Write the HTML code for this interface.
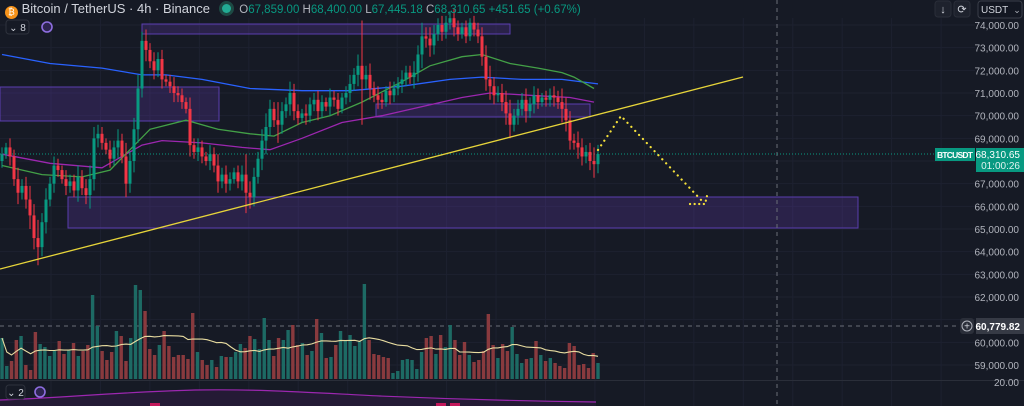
<!DOCTYPE html>
<html><head><meta charset="utf-8">
<style>
html,body{margin:0;padding:0;background:#161a25;width:1024px;height:406px;overflow:hidden;font-family:"Liberation Sans",sans-serif}
#wrap{position:relative;width:1024px;height:406px}
svg{position:absolute;left:0;top:0}
.hdr{position:absolute;left:0;top:0;height:18px;font-size:13px;color:#d1d4dc;white-space:nowrap}
</style></head><body>
<div id="wrap">
<svg id="chart" width="1024" height="406"></svg>
<div class="hdr" style="left:5px;top:1px">
 <span style="display:inline-block;width:13px;height:13px;border-radius:50%;background:#f7931a;vertical-align:-2px;color:#fff;font-size:9px;text-align:center;line-height:13px">₿</span>
 <span style="margin-left:0px">Bitcoin / TetherUS · 4h · Binance</span>
 <span style="display:inline-block;width:9px;height:9px;border-radius:50%;background:#22ab94;margin-left:8px;box-shadow:0 0 0 3px #1d4a44;vertical-align:0px"></span>
 <span style="font-size:11.5px;margin-left:5px;color:#089981"><span style="color:#b2b5be">O</span>67,859.00 <span style="color:#b2b5be">H</span>68,400.00 <span style="color:#b2b5be">L</span>67,445.18 <span style="color:#b2b5be">C</span>68,310.65 +451.65 (+0.67%)</span>
</div>
</div>
<script>
const closes=[68.3,68.6,68.2,67.2,66.6,66.9,66.3,65.6,64.6,64.2,65.3,66.3,67.0,67.8,67.6,67.2,66.9,67.1,66.7,67.3,66.8,66.5,67.2,69.0,69.2,68.8,68.5,68.1,68.6,68.9,68.2,67.0,68.0,69.4,71.2,73.3,72.9,72.4,72.0,72.5,71.6,71.5,71.3,71.0,70.9,70.6,70.3,68.7,68.4,68.6,68.2,68.0,68.3,67.8,67.1,67.4,67.0,67.2,67.5,67.1,67.4,66.6,66.4,67.3,68.1,68.9,69.5,70.3,69.8,69.6,70.2,70.5,71.0,70.2,69.9,70.1,70.0,70.5,70.7,70.2,70.6,70.4,70.8,70.7,70.3,70.8,71.0,71.4,71.8,72.2,71.6,71.8,71.2,70.9,70.7,70.6,71.1,70.9,71.2,71.4,71.6,71.9,71.7,71.9,72.7,73.5,73.4,73.1,73.6,74.0,73.7,74.1,74.3,73.9,73.6,73.9,73.5,74.1,73.8,73.5,72.6,71.6,71.3,70.9,71.0,70.6,70.1,69.6,70.0,70.3,70.7,70.2,70.5,70.9,70.6,70.8,70.7,70.9,70.8,70.6,70.3,69.8,68.9,68.8,68.6,68.2,68.4,68.0,67.86,68.31];
const wicks=[0.3,0.2,0.4,0.3,0.5,0.3,0.4,0.6,0.5,0.8,0.4,0.5,0.3,0.4,0.3,0.2,0.4,0.3,0.3,0.5,0.3,0.4,0.6,0.5,0.4,0.3,0.2,0.4,0.3,0.5,0.3,0.6,0.4,0.5,0.6,0.4,0.5,0.3,0.4,0.3,0.4,0.2,0.3,0.4,0.3,0.3,0.2,0.5,0.3,0.4,0.3,0.2,0.4,0.3,0.5,0.3,0.4,0.3,0.2,0.3,0.4,0.9,0.5,0.4,0.3,0.5,0.6,0.4,0.3,0.8,0.4,0.3,0.5,0.4,0.3,0.2,0.4,0.3,0.3,0.4,0.3,0.2,0.4,0.3,0.3,0.2,0.3,0.4,0.3,0.5,2.0,0.4,0.5,0.3,0.4,0.3,0.2,0.4,0.3,0.3,0.4,0.3,0.3,0.5,0.4,0.6,0.4,0.5,0.4,0.3,0.4,0.3,0.3,0.4,0.3,0.2,0.3,0.2,0.3,0.3,0.4,0.5,0.6,0.4,0.3,0.4,0.5,0.6,0.3,0.4,0.3,0.5,0.3,0.4,0.3,0.2,0.3,0.3,0.4,0.3,0.6,0.5,0.4,0.3,0.5,0.4,0.3,0.4,0.6,0.4];
const volumes=[41,13,18,39,43,14,9,47,35,32,23,28,38,25,29,36,23,28,34,84,53,28,19,27,48,43,18,41,94,89,68,30,24,34,48,33,22,24,24,20,66,27,19,14,19,12,23,22,22,27,35,31,43,40,30,61,39,23,41,39,49,54,34,36,24,28,60,46,21,22,34,48,39,44,33,38,95,39,25,24,22,21,6,8,19,20,19,10,27,41,43,25,44,32,54,39,24,37,24,17,19,28,65,34,21,35,28,52,25,16,20,21,38,24,18,21,16,13,11,36,33,14,15,11,26,16];
const maIdxBlue=[0,12,25,35,41,50,62,75,87,100,112,120,130,140,149];
const maBlue=[72.7,72.3,72.1,71.8,71.8,71.6,71.2,71.1,71.1,71.3,71.6,71.7,71.6,71.6,71.4];
const maIdxGreen=[0,10,20,27,32,37,46,54,62,68,75,82,90,100,107,115,120,127,134,140,143,148];
const maGreen=[67.8,67.4,67.3,67.6,68.5,69.4,69.8,69.4,69.2,69.1,69.7,70.0,70.6,71.5,72.2,72.6,72.7,72.3,72.1,71.9,71.7,71.2];
const maIdxPurple=[0,12,25,35,40,50,60,67,75,85,95,105,115,122,132,142,148];
const maPurple=[68.3,67.9,67.7,68.7,68.9,68.8,68.6,68.5,69.0,69.7,70.0,70.4,70.8,71.0,70.9,70.8,70.6];
const priceTicks=[74,73,72,71,70,69,67,66,65,64,63,62,60,59];

const NS='http://www.w3.org/2000/svg';
const svg=document.getElementById('chart');
function yP(p){return 25+(74-p)*22.667;}
function xI(i){return 2+4*i;}
function mk(tag,attrs,parent){const e=document.createElementNS(NS,tag);for(const k in attrs)e.setAttribute(k,attrs[k]);(parent||svg).appendChild(e);return e;}
function txt(x,y,s,attrs){const t=mk('text',Object.assign({x:x,y:y,'font-family':'Liberation Sans'},attrs));t.textContent=s;return t;}

const grid=mk('g',{});


for(let x=51;x<975;x+=49.45){mk('line',{x1:x,y1:18,x2:x,y2:406,stroke:'#1d2130','stroke-width':1},grid);}
for(let p=74;p>=59;p--){const y=yP(p);mk('line',{x1:0,y1:y,x2:975,y2:y,stroke:'#1d2130','stroke-width':1},grid);}

const zones=[[142,24,368,10],[0,87,219,34],[376,104,214,13],[68,197,790,31]];
zones.forEach(z=>{const r=mk('rect',{x:z[0],y:z[1],width:z[2],height:z[3],fill:'rgba(103,58,183,0.25)',stroke:'#5b3db0','stroke-width':1});

});

const hl=mk('line',{x1:0,y1:326,x2:960,y2:326,stroke:'#6a6d78','stroke-width':1,'stroke-dasharray':'4,4'});


const vl=mk('line',{x1:777,y1:0,x2:777,y2:406,stroke:'#6a6d78','stroke-width':1,'stroke-dasharray':'4,4'});


const cl=mk('line',{x1:0,y1:yP(68.31),x2:935,y2:yP(68.31),stroke:'#089981','stroke-width':1,'stroke-dasharray':'1,2'});



function maPath(idx,vals,color,name){let d='';idx.forEach((i,k)=>{d+=(k?'L':'M')+xI(i).toFixed(1)+','+yP(vals[k]).toFixed(1);});
const p=mk('path',{d:d,fill:'none',stroke:color,'stroke-width':1.3});

}
maPath(maIdxBlue,maBlue,'#2962ff','ma-blue-line');
maPath(maIdxPurple,maPurple,'#9c27b0','ma-purple-line');
maPath(maIdxGreen,maGreen,'#43a047','ma-green-line');

const cg=mk('g',{});


const dirs=[];
closes.forEach((c,i)=>{const o=i?closes[i-1]:c-0.3;const up=c>=o;dirs.push(up);
const col=up?'#089981':'#f23645';const hi=Math.max(o,c)+wicks[i],lo=Math.min(o,c)-wicks[i];
const x=xI(i);
mk('line',{x1:x,y1:yP(hi),x2:x,y2:yP(lo),stroke:col,'stroke-width':1},cg);
const yt=yP(Math.max(o,c)),yb=yP(Math.min(o,c));
const b=mk('rect',{x:x-1.5,y:yt,width:3,height:Math.max(1,yb-yt),fill:col},cg);

});

const tl=mk('line',{x1:0,y1:269,x2:743,y2:77,stroke:'#e6d43a','stroke-width':1.3});


const pr=mk('polyline',{points:'598,150 621,116 704,203',fill:'none',stroke:'#f5e13a','stroke-width':2.2,'stroke-dasharray':'0.1,5.5','stroke-linecap':'round'});


const ah=mk('polyline',{points:'690,204 705,204 708,192',fill:'none',stroke:'#f5e13a','stroke-width':2.2,'stroke-dasharray':'0.1,4.5','stroke-linecap':'round'});



const vg=mk('g',{});


const vStep=596/(volumes.length-1);
const vX=j=>2+j*vStep;
volumes.forEach((v,j)=>{const ci=Math.min(closes.length-1,Math.round((vX(j)-2)/4));
const r=mk('rect',{x:vX(j)-1.7,y:379-v,width:3.4,height:v,fill:dirs[ci]?'#1d6a64':'#893a3e'},vg);

});
let vd='';volumes.forEach((v,j)=>{const s=Math.max(0,j-19);let sum=0;for(let k=s;k<=j;k++)sum+=volumes[k];const m=sum/(j-s+1);vd+=(j?'L':'M')+vX(j).toFixed(1)+','+(379-m).toFixed(1);});
const vm=mk('path',{d:vd,fill:'none',stroke:'#e8dca0','stroke-width':1.1});



mk('line',{x1:0,y1:380.5,x2:1024,y2:380.5,stroke:'#2a2e39','stroke-width':1});
const bp=mk('path',{d:'M0,400 C60,398 120,392 195,390 C260,389 300,392 380,396 C450,399 520,401 596,402 L596,406 L0,406 Z',fill:'#241a35',stroke:'none'});


const bl=mk('path',{d:'M0,400 C60,398 120,392 195,390 C260,389 300,392 380,396 C450,399 520,401 596,402',fill:'none',stroke:'#9c27b0','stroke-width':1.2});


[150,436,450].forEach(x=>{mk('rect',{x:x,y:403,width:10,height:3,fill:'#c2185b'});});

const ax=mk('g',{});


priceTicks.forEach(p=>{const t=txt(1019,yP(p)+4,(p*1000).toLocaleString('en-US')+'.00',{'text-anchor':'end','font-size':'10','fill':'#b2b5be'});ax.appendChild(t);

});
txt(1019,386,'20.00',{'text-anchor':'end','font-size':'10',fill:'#b2b5be'});
const bx=mk('rect',{x:935,y:148,width:40,height:13,fill:'#089981'});


txt(955,158,'BTCUSDT',{'text-anchor':'middle','font-size':'8.5','fill':'#fff','font-weight':'bold','textLength':'36'});
mk('rect',{x:976,y:148,width:48,height:24,fill:'#089981'});
txt(1020,158,'68,310.65',{'text-anchor':'end','font-size':'10',fill:'#fff'});
txt(1020,169,'01:00:26',{'text-anchor':'end','font-size':'10',fill:'#e0f2ef'});
mk('rect',{x:960,y:318,width:14,height:16,rx:3,fill:'#2a2e39'});
mk('circle',{cx:967,cy:326,r:5,fill:'none',stroke:'#b2b5be','stroke-width':1});
txt(967,329.5,'+',{'text-anchor':'middle','font-size':'10',fill:'#d1d4dc'});
mk('rect',{x:976,y:318,width:48,height:16,fill:'#363a45'});
txt(1020,330,'60,779.82',{'text-anchor':'end','font-size':'10',fill:'#fff','font-weight':'bold'});
[[935,'↓'],[954,'⟳']].forEach(b=>{const r=mk('rect',{x:b[0],y:1,width:16,height:16,rx:3,fill:'#1e222d',stroke:'#2a2e39'});


txt(b[0]+8,13,b[1],{'text-anchor':'middle','font-size':'11',fill:'#d1d4dc'});});
const ud=mk('rect',{x:978,y:1,width:44,height:17,rx:3,fill:'#131722',stroke:'#3a3e49'});


txt(981,13,'USDT',{'font-size':'10',fill:'#d1d4dc'});
txt(1017,13,'⌄',{'text-anchor':'middle','font-size':'9',fill:'#b2b5be'});
function paneBtn(x,y,w,label,name){const r=mk('rect',{x:x,y:y,width:w,height:14,rx:3,fill:'#161a25',stroke:'#2e323d'});


txt(x+w/2,y+11,label,{'text-anchor':'middle','font-size':'10',fill:'#d1d4dc'});}
paneBtn(6,20,23,'⌄ 8','indicators-toggle');
paneBtn(6,385,19,'⌄ 2','lower-pane-toggle');
[[47,27],[40,392]].forEach(c=>{const s=mk('circle',{cx:c[0],cy:c[1],r:5,fill:'#2d2450',stroke:'#8e6ee0','stroke-width':1.6});

});
</script>
</body></html>
